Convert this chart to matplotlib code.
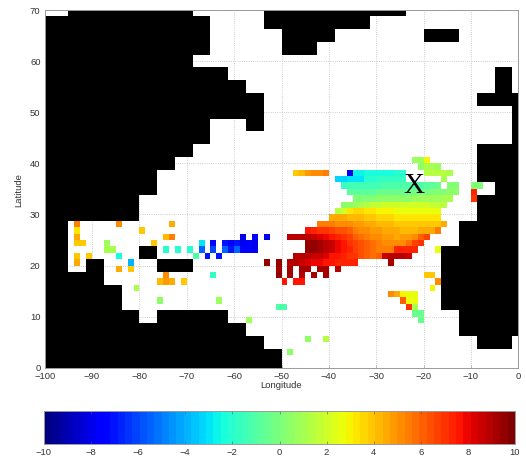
import numpy as np
import matplotlib
matplotlib.use("Agg")
import matplotlib.pyplot as plt
from matplotlib.colors import ListedColormap

plt.rcParams['font.family'] = ['Liberation Sans', 'DejaVu Sans']

# grid cells: 1.25 degree, column 0 at lon -100, row 0 at lat 70 (rows go south)
cell_deg = 1.25
n_cols, n_rows = 80, 56

# land spans: (first row, last row, first col, last col)
land_west = [(0,0,4,24),(1,6,0,27),(7,8,0,24),(9,10,0,30),(11,12,0,33),(13,16,0,36),
             (17,18,0,27),(17,18,34,36),(19,20,0,27),(21,22,0,24),(23,24,0,21),
             (25,28,0,18),(29,32,0,15),(33,40,0,3),(39,40,7,9),(41,42,0,9),(43,46,0,12),
             (47,48,0,15),(47,48,19,30),(49,50,0,33),(51,52,0,36),(53,55,0,39),
             (37,38,16,18),(39,40,19,24)]
land_north = [(0,0,37,60),(1,2,37,54),(3,4,40,48),(5,6,40,45),(3,4,64,69)]
land_east = [(9,12,76,78),(13,14,73,79),(15,20,79,79),(21,26,73,79),(27,28,76,79),
             (29,32,73,79),(33,36,70,79),(37,46,67,79),(47,50,70,79),(51,52,73,78)]

# anomaly values of the main patch, row by row, with the column of the first value
row_25 = (52, [-2.6,-2.6,-2.5,-2.4,-2.4,-2.3,-2.2,-2.1,-2.0])
row_26 = (49, [-3.2,-3.2,-3.1,-3.1,-3.0,-2.0,-1.9,-1.8,-1.8,-1.7,-1.7,-1.7])
row_27 = (50, [-1.6,-1.5,-1.4,-1.4,-1.4,-1.3,-1.3,-1.2,-1.2,-1.2,-1.1,-1.1,-1.0,-1.0,-0.9,-0.8,-0.4,np.nan,0.2,0.2])
row_28 = (51, [-0.8,-0.8,-0.8,-0.7,-0.7,-0.6,-0.6,-0.5,-0.5,-0.4,-0.4,-0.3,-0.2,-0.1,0.0,0.2,0.3,0.4,0.5])
row_29 = (52, [0.0,0.1,0.2,0.3,0.4,0.4,0.5,0.5,0.6,0.6,0.7,0.7,0.8,0.8,0.9,1.0,1.0])
row_30 = (50, [0.4,0.6,0.9,1.2,1.5,1.7,1.8,1.9,2.0,2.0,2.0,2.0,2.0,2.0,1.9,1.8,1.6,1.3])
row_31 = (49, [1.5,1.9,3.4,3.5,3.5,3.4,3.2,3.1,3.0,2.9,2.8,2.7,2.7,2.7,2.6,2.6,2.5,2.5])
row_32 = (48, [4.6,4.5,4.4,4.3,4.2,4.1,4.0,3.9,3.7,3.6,3.5,3.4,3.4,3.4,3.3,3.3,3.3,3.3,3.3])
row_33 = (46, [5.6,5.5,5.4,5.3,5.2,5.0,4.9,4.8,4.6,4.4,4.3,4.2,4.1,4.0,4.0,3.9,3.9,3.9,3.9,3.9,4.0,4.6])
row_34 = (44, [7.5,7.3,7.1,6.9,6.7,6.5,6.3,6.0,5.6,5.3,5.0,4.9,4.7,4.6,4.5,4.4,4.3,4.3,4.3,4.4,4.4,4.6,5.6])
row_35 = (41, [9.0,9.0,9.0,8.9,8.6,8.4,8.0,7.7,7.4,7.0,6.6,6.2,5.8,5.5,5.2,5.0,4.8,4.7,4.6,4.7,4.9,5.3,6.0,6.6])
row_36 = (44, [9.4,9.4,9.2,8.9,8.5,8.0,7.5,7.1,6.7,6.3,6.0,5.7,5.4,5.2,5.0,5.1,5.3,5.9,6.6,7.0])
row_37 = (44, [9.5,9.5,9.3,9.0,8.5,8.0,7.6,7.2,6.8,6.4,6.1,5.8,5.6,5.4,5.6,7.2,7.4,7.4,7.4])
row_38 = (42, [8.8,8.8,8.8,8.7,8.5,8.2,7.8,7.5,7.3,7.1,6.9,6.5,6.2,5.9,6.0,8.6,8.8,8.8,8.8,8.6])
row_39 = (41, [9.0,8.8,8.6,8.3,8.1,7.9,7.7,7.5,7.4,7.3,7.2,7.2])
main_rows = {25:row_25,26:row_26,27:row_27,28:row_28,29:row_29,30:row_30,31:row_31,32:row_32,
             33:row_33,34:row_34,35:row_35,36:row_36,37:row_37,38:row_38,39:row_39}

# isolated cells: row, column, value
spots_gulf = [(33,5,5.5),(34,5,3.3),(35,5,4.5),(36,5,3.8),(36,6,3.8),(38,5,3.8),(39,5,4.5),(38,7,4.0),
              (33,12,5.0),(34,16,4.0),(33,21,4.5),(35,20,4.3),(35,21,5.5),(36,18,3.8),(36,10,0.7),
              (37,10,1.0),(37,11,1.0),(38,12,-2.5),(39,14,-4.0),(40,12,4.5),(40,14,4.0),
              (42,19,4.2),(42,20,4.8),(42,21,4.5),(41,20,5.0),(42,23,4.0),(43,15,1.0),(45,19,0.5),
              (45,29,0.7),(48,34,0.7),(41,28,-1.8)]
spots_band = [(37,20,-2.0),(37,22,-2.0),(37,24,-2.0),(36,26,-3.0),(37,26,-5.5),(36,28,-7.5),(37,28,-6.0),
              (38,25,-1.0),(38,27,-7.0),(38,29,-7.0),(36,30,-7.0),(36,31,-7.5),(36,32,-7.0),(36,33,-8.0),
              (36,34,-7.5),(36,35,-8.0),(37,30,-5.5),(37,31,-7.0),(37,32,-5.5),(37,33,-7.5),(37,34,-7.5),
              (37,35,-8.0),(35,33,-8.0),(35,35,-7.5),(35,37,-8.0)]
spots_mid = [(39,37,9.6),(39,39,9.4),(39,58,9.2),(40,39,9.3),(40,41,9.3),(40,43,9.3),(40,44,9.3),(40,46,9.2),
             (40,47,9.2),(40,49,9.0),(41,39,9.4),(41,41,9.2),(41,43,9.0),(41,45,9.2),(41,47,9.2),
             (42,40,7.5),(42,42,7.5),(42,43,7.5),(46,39,-1.0),(46,40,-1.0),(51,44,0.5),(51,47,1.5),(53,41,0.5)]
spots_east = [(23,62,0.8),(23,63,0.8),(23,64,3.0),(24,63,0.6),(24,64,1.0),(24,65,1.0),(24,66,0.9),
              (25,64,1.4),(25,65,1.4),(25,66,1.4),(25,67,1.3),(25,68,1.2),(26,67,1.2),(25,42,4.0),
              (25,43,4.3),(25,44,4.8),(25,45,5.0),(25,46,5.2),(25,47,5.4),(25,51,-8.0),(27,72,0.3),
              (27,73,0.3),(28,72,7.2),(29,72,7.0),(37,66,2.6),(41,64,3.8),(41,65,3.8),(42,66,5.0),
              (43,65,3.0),(44,58,5.0),(44,59,4.6),(44,60,3.0),(44,61,2.6),(44,62,2.5),(45,60,6.0),
              (45,61,2.5),(45,62,2.5),(46,61,7.0),(46,62,1.0),(47,62,-0.5),(47,63,-0.5),(48,63,-0.5)]

lon_ticks = [-100,-90,-80,-70,-60,-50,-40,-30,-20,-10,0]
lat_ticks = [0,10,20,30,40,50,60,70]
bar_ticks = [-10,-8,-6,-4,-2,0,2,4,6,8,10]

values = np.full((n_rows, n_cols), np.nan)
for r, (start, vals) in main_rows.items():
    values[r, start:start+len(vals)] = vals
for group in (spots_gulf, spots_band, spots_mid, spots_east):
    for r, c, v in group:
        values[r, c] = v
land = np.full((n_rows, n_cols), np.nan)
for group in (land_west, land_north, land_east):
    for r0, r1, c0, c1 in group:
        land[r0:r1+1, c0:c1+1] = 1

lon_edges = -100 + cell_deg*np.arange(n_cols+1)
lat_edges = 70 - cell_deg*np.arange(n_rows+1)

W, H = 526, 457
fig = plt.figure(figsize=(W/100, H/100), dpi=100)
ax = fig.add_axes([44.7/W, 1-367.7/H, 473.6/W, 357.7/H])
cmap = plt.get_cmap('jet', 64)
mesh = ax.pcolormesh(lon_edges, lat_edges, np.ma.masked_invalid(values), cmap=cmap, vmin=-10, vmax=10,
                     zorder=2, antialiased=False, linewidth=0)
ax.pcolormesh(lon_edges, lat_edges, np.ma.masked_invalid(land), cmap=ListedColormap(['black']),
              zorder=2, antialiased=False, linewidth=0)
ax.set_xlim(-100, 0); ax.set_ylim(0, 70)
ax.set_xticks(lon_ticks); ax.set_yticks(lat_ticks)
ax.set_axisbelow(True)
ax.grid(True, ls=':', lw=0.6, color='#bdbdbd')
ax.tick_params(direction='in', length=2.5, width=0.4, colors='#888888', labelsize=6.8,
               labelcolor='#333333', pad=3)
for s in ax.spines.values():
    s.set_edgecolor('#9a9a9a'); s.set_linewidth(0.7); s.set_zorder(3)
ax.text(-22, 35.6, 'X', family='Liberation Serif', fontsize=21, ha='center', va='center',
        color='black', zorder=5)
fig.text(281/W, 1-386/H, 'Longitude', ha='center', va='center', fontsize=6.8, color='#333333')
fig.text(19/W, 1-190/H, 'Latitude', ha='center', va='center', rotation=90, fontsize=6.8, color='#333333')

cax = fig.add_axes([44/W, 1-443.7/H, 471/W, 32.7/H])
cb = fig.colorbar(mesh, cax=cax, orientation='horizontal', ticks=bar_ticks, drawedges=False)
cax.tick_params(direction='in', length=2.5, width=0.4, colors='#555555', labelsize=6.8,
                labelcolor='#333333', pad=3, top=True, bottom=True)
cb.outline.set_edgecolor('#9a9a9a'); cb.outline.set_linewidth(0.7)

fig.savefig('out.png', dpi=100)
